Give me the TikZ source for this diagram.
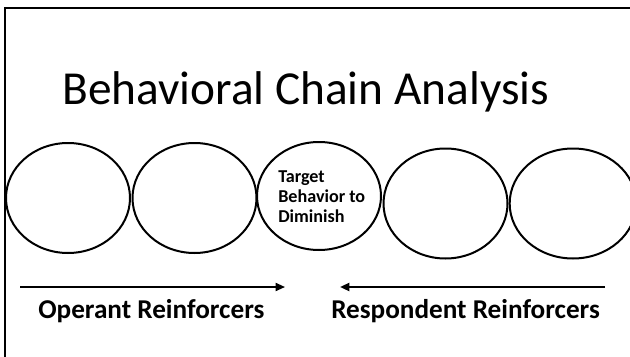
\documentclass[tikz,border=0pt]{standalone}
\usepackage{fontspec}
\setmainfont{Carlito}
\usetikzlibrary{arrows.meta,shapes.geometric}
\begin{document}
\begin{tikzpicture}[x=0.75pt,y=-0.75pt,
  chainlink/.style={draw=black, ellipse, line width=1.5pt, minimum width=93pt, minimum height=82.5pt, inner sep=0pt},
  framestyle/.style={draw=black, line width=1.6pt},
  titletext/.style={font=\fontsize{35.5pt}{42pt}\selectfont, inner sep=0pt},
  labeltext/.style={font=\bfseries\fontsize{20.4pt}{24pt}\selectfont, inner sep=0pt},
  targettext/.style={font=\bfseries\fontsize{13.6pt}{15pt}\selectfont, align=left, inner sep=0pt},
  reinforcer/.style={draw=black, line width=1.3pt, -{Triangle[length=7pt,width=6pt]}}
]
\useasboundingbox (0,0) rectangle (630,356);
\fill[white] (0,0) rectangle (630,356);
% frame
\coordinate (fb) at (5,357);
\coordinate (fc) at (5,8);
\coordinate (fr) at (631,8);
\draw[framestyle] (fb) -- (fc) -- (fr);
% title
\node[titletext, anchor=base west] (title) at (62,104) {Behavioral Chain Analysis};
% chain links
\node[chainlink] (e1) at (68,198) {};
\node[chainlink] (e2) at (194.5,198) {};
\node[chainlink, minimum height=81pt] (e3) at (319,196) {};
\node[chainlink] (e4) at (445.5,203.5) {};
\node[chainlink, minimum width=95pt] (e5) at (573,203.5) {};
\node[targettext, anchor=west] (target) at (278,197) {Target\\Behavior to\\Diminish};
% arrows
\coordinate (a1s) at (20,287);
\coordinate (a1e) at (285,287);
\coordinate (a2s) at (605,287);
\coordinate (a2e) at (340,287);
\draw[reinforcer] (a1s) -- (a1e);
\draw[reinforcer, line width=1.6pt] (a2s) -- (a2e);
% labels
\node[labeltext, anchor=base west] (operant) at (38,318) {Operant Reinforcers};
\node[labeltext, anchor=base west] (respondent) at (331,318) {Respondent Reinforcers};
\end{tikzpicture}
\end{document}
